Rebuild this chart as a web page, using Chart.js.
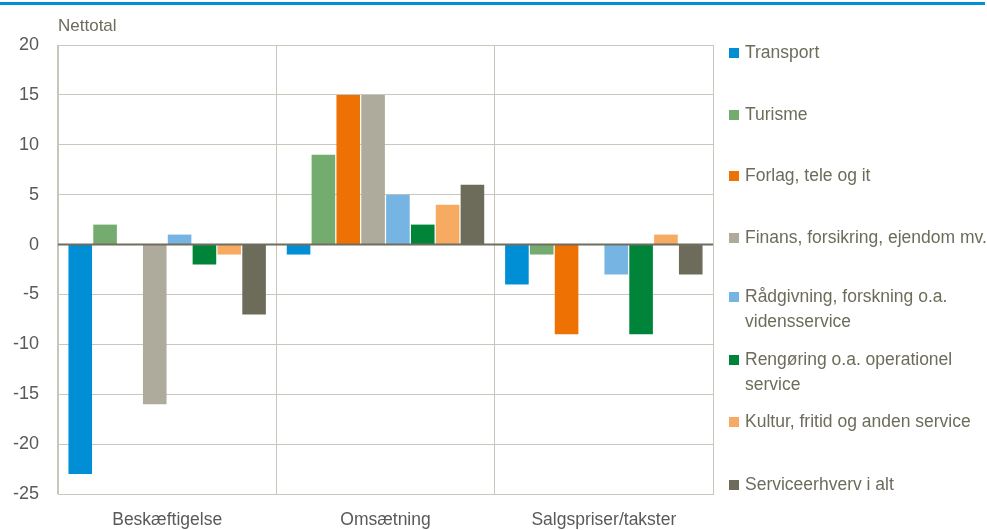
<!DOCTYPE html>
<html>
<head>
<meta charset="utf-8">
<script src="https://cdn.jsdelivr.net/npm/chart.js@4.4.0/dist/chart.umd.min.js"></script>
<style>
  body { margin: 0; background: #fff; font-family: "Liberation Sans", Arial, sans-serif; }
  #wrap { position: relative; width: 987px; height: 530px; }
  #topline { position: absolute; left: 0; top: 2px; width: 985px; height: 3px; background: #0091d5; }
  #ytitle { position: absolute; left: 58px; top: 16px; font-size: 17px; color: #6d6c5b; }
  #legend { position: absolute; left: 729px; top: 0; width: 258px; }
  .item { position: absolute; left: 0; font-size: 17.5px; line-height: 25px; color: #6d6c5b; white-space: nowrap; }
  .item span.box { position: absolute; left: 0; top: 8px; width: 10px; height: 10px; }
  .item div { margin-left: 16px; }
</style>
</head>
<body>
<div id="wrap">
  <div id="topline"></div>
  <div id="ytitle">Nettotal</div>
  <canvas id="myChart" width="987" height="530"></canvas>
  <div id="legend"></div>
</div>
<script>
var categories = ["Beskæftigelse", "Omsætning", "Salgspriser/takster"]
var seriesNames = [
    ["Transport"],
    ["Turisme"],
    ["Forlag, tele og it"],
    ["Finans, forsikring, ejendom mv."],
    ["Rådgivning, forskning o.a.", "vidensservice"],
    ["Rengøring o.a. operationel", "service"],
    ["Kultur, fritid og anden service"],
    ["Serviceerhverv i alt"]
]
var transport = [-23, -1, -4]
var turisme = [2, 9, -1]
var forlag = [0, 15, -9]
var finans = [-16, 15, 0]
var raadgivning = [1, 5, -3]
var rengoering = [-2, 2, -9]
var kultur = [-1, 4, 1]
var serviceIAlt = [-7, 6, -3]
var yTicks = [20, 15, 10, 5, 0, -5, -10, -15, -20, -25]

var colors = ["#008fd5", "#74ab6f", "#ee7203", "#aeab9d", "#76b5e3", "#00843a", "#f6aa62", "#6d6c5b"]
var values = [transport, turisme, forlag, finans, raadgivning, rengoering, kultur, serviceIAlt]

var datasets = []
for (var i = 0; i < values.length; i++) {
    datasets.push({
        label: seriesNames[i].join(" "),
        data: values[i],
        backgroundColor: colors[i],
        borderWidth: 0,
        categoryPercentage: 0.91,
        barPercentage: 0.95
    })
}

// legend on the right, as html so the long names can wrap
var legendTops = [40, 102, 163, 225, 284, 347, 409, 472]
var legend = document.querySelector("#legend")
for (var i = 0; i < seriesNames.length; i++) {
    var item = document.createElement("div")
    item.className = "item"
    item.style.top = legendTops[i] + "px"
    item.innerHTML = '<span class="box" style="background:' + colors[i] + '"></span><div>' + seriesNames[i].join("<br>") + '</div>'
    legend.appendChild(item)
}

new Chart("myChart", {
    type: "bar",
    data: {
        labels: categories,
        datasets: datasets
    },
    options: {
        responsive: false,
        animation: false,
        layout: { padding: { left: 0, right: 274, top: 45, bottom: 0 } },
        plugins: {
            legend: { display: false },
            tooltip: { enabled: false }
        },
        scales: {
            y: {
                min: -25,
                max: 20,
                afterFit: function(scale) { scale.width = 58 },
                afterBuildTicks: function(scale) {
                    scale.ticks = yTicks.map(function(v) { return { value: v } })
                },
                ticks: {
                    color: "#595959",
                    font: { family: "Liberation Sans", size: 18 },
                    padding: 19
                },
                grid: {
                    drawTicks: false,
                    color: "#c9c7bb"
                },
                border: { color: "#c9c7bb" }
            },
            x: {
                afterFit: function(scale) { scale.height = 36 },
                ticks: {
                    color: "#595959",
                    font: { family: "Liberation Sans", size: 17.5 },
                    padding: 16
                },
                grid: {
                    drawTicks: false,
                    color: "#c9c7bb"
                },
                border: { color: "#c9c7bb" }
            }
        }
    },
    plugins: [{
        // right edge of the box and the zero line on top of the bars
        id: "extraLines",
        afterDatasetsDraw: function(chart) {
            var a = chart.chartArea
            var c = chart.ctx
            var y0 = chart.scales.y.getPixelForValue(0)
            c.save()
            c.strokeStyle = "#c9c7bb"
            c.lineWidth = 1
            c.beginPath()
            c.moveTo(a.right + 0.5, a.top)
            c.lineTo(a.right + 0.5, a.bottom)
            c.stroke()
            c.strokeStyle = "#6e6d5e"
            c.lineWidth = 2
            c.beginPath()
            c.moveTo(a.left, y0)
            c.lineTo(a.right, y0)
            c.stroke()
            c.restore()
        }
    }]
});
</script>
</body>
</html>
